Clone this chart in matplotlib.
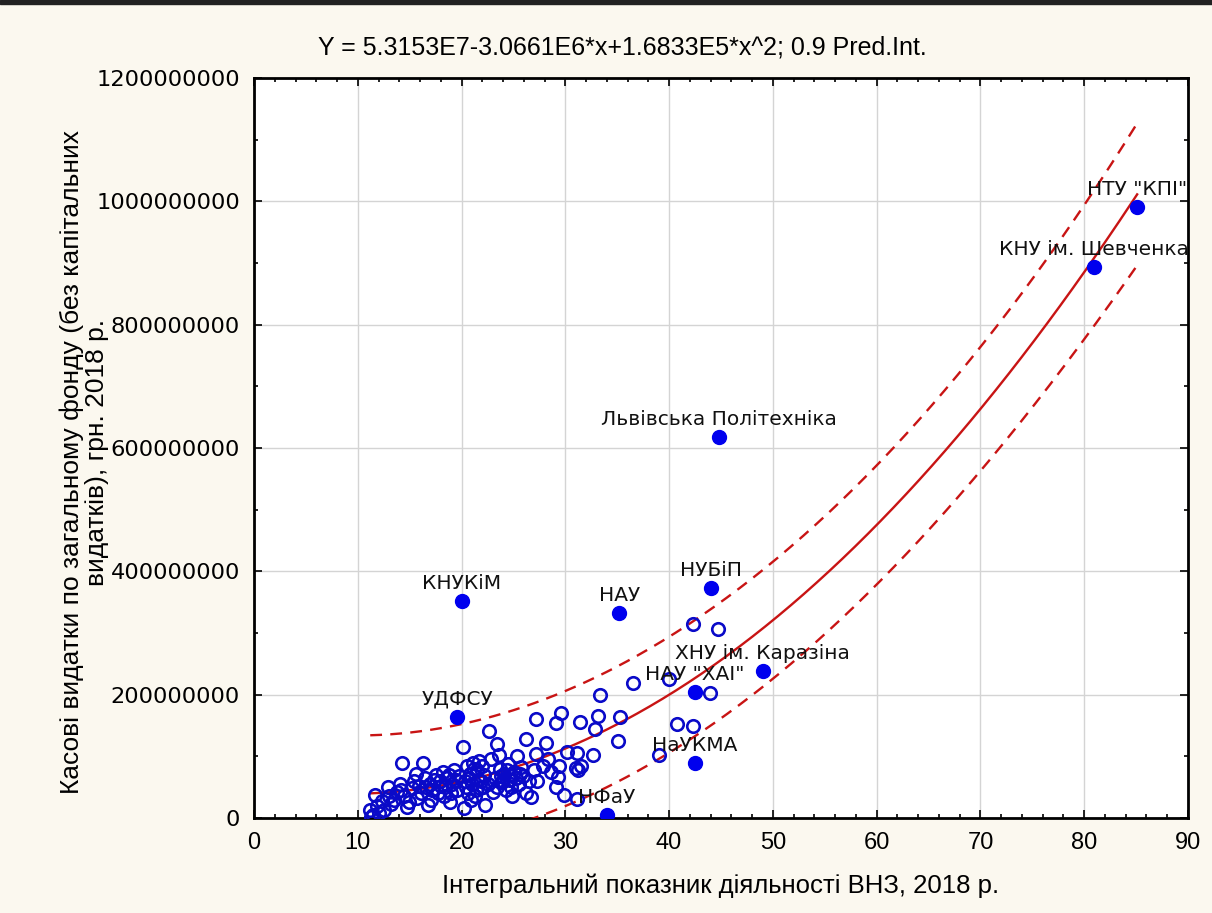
"""Scatter of university spending vs integral activity index with quadratic fit."""
import numpy as np
import matplotlib
matplotlib.use("Agg")
from matplotlib import pyplot as plt
from matplotlib.patches import Rectangle
from matplotlib.ticker import MultipleLocator

# open circles: integral index and cash expenditure (mln UAH)
x_pts = [11.2, 11.3, 11.5, 11.7, 11.9, 12.0, 12.3, 12.5, 12.9, 13.0, 13.2, 13.5,
         13.8, 14.1, 14.2, 14.3, 14.5, 14.7, 14.9, 15.2, 15.4, 15.6, 15.7, 15.9,
         16.1, 16.3, 16.5, 16.6, 16.8, 17.0, 17.1, 17.2, 17.3, 17.5, 17.7, 17.9,
         18.0, 18.2, 18.3, 18.4, 18.6, 18.8, 18.9, 19.0, 19.1, 19.3, 19.5, 19.6,
         19.8, 20.1, 20.2, 20.3, 20.4, 20.5, 20.6, 20.7, 20.8, 20.9, 21.0, 21.1,
         21.2, 21.3, 21.4, 21.5, 21.6, 21.7, 21.8, 21.9, 22.0, 22.1, 22.2, 22.3,
         22.5, 22.6, 22.8, 23.0, 23.2, 23.4, 23.4, 23.6, 23.7, 23.8, 23.9, 24.0,
         24.1, 24.3, 24.4, 24.5, 24.6, 24.7, 24.8, 24.9, 25.1, 25.2, 25.3, 25.5,
         25.6, 25.7, 25.9, 26.2, 26.2, 26.5, 26.7, 27.0, 27.2, 27.2, 27.3, 27.8,
         28.1, 28.3, 28.6, 29.1, 29.1, 29.3, 29.4, 29.6, 29.9, 30.2, 31.0, 31.1,
         31.1, 31.2, 31.4, 31.5, 32.7, 32.9, 33.1, 33.3, 35.1, 35.3, 36.5, 39.0,
         40.0, 40.8, 42.3, 42.3, 43.9, 44.7]
y_pts = [13, 2, 5, 37, 20, 8, 28, 13, 50, 35, 22, 29,
         42, 55, 45, 89, 35, 18, 26, 48, 60, 72, 32, 52,
         40, 89, 65, 50, 21, 55, 30, 45, 62, 70, 40, 60,
         52, 75, 35, 50, 65, 70, 26, 40, 55, 78, 62, 45,
         68, 115, 16, 60, 50, 85, 40, 65, 72, 30, 55, 90,
         80, 35, 45, 78, 62, 92, 48, 60, 85, 50, 70, 21,
         55, 141, 95, 42, 65, 120, 50, 102, 80, 68, 58, 60,
         72, 45, 78, 88, 70, 62, 50, 35, 75, 65, 100, 55,
         72, 82, 68, 128, 41, 60, 34, 78, 161, 104, 60, 85,
         122, 95, 75, 154, 50, 66, 84, 170, 37, 107, 81, 105,
         31, 78, 156, 84, 102, 144, 165, 199, 125, 164, 219, 102,
         225, 152, 149, 315, 203, 306]

# named universities (filled dots)
lab_names = ['НТУ "КПІ"', 'КНУ ім. Шевченка', 'Львівська Політехніка', 'НУБіП',
             'НАУ', 'КНУКіМ', 'ХНУ ім. Каразіна', 'НАУ "ХАІ"', 'УДФСУ',
             'НаУКМА', 'НФаУ']
lab_x = [85.1, 80.9, 44.8, 44.0, 35.2, 20.0, 49.0, 42.5, 19.6, 42.5, 34.0]
lab_y = [991, 893, 618, 373, 332, 352, 238, 204, 164, 89, 5]

# Y = b0 + b1*x + b2*x^2 (from the chart title)
coef = np.array([5.3153e7, -3.0661e6, 1.6833e5])
t_val = 1.656  # t(0.95, df~150) for 0.9 prediction interval

x_all = np.array(x_pts + lab_x)
y_all = np.array(y_pts + lab_y) * 1e6

A = np.vstack([np.ones_like(x_all), x_all, x_all ** 2]).T
resid = y_all - A @ coef
s2 = np.sum(resid ** 2) / (len(x_all) - 3)
cov = np.linalg.inv(A.T @ A)

xs = np.linspace(x_all.min(), x_all.max(), 300)
B = np.vstack([np.ones_like(xs), xs, xs ** 2]).T
fit = B @ coef
lev = np.einsum("ij,jk,ik->i", B, cov, B)
half = t_val * np.sqrt(s2 * (1 + lev))

bg = "#FBF8EF"
fig = plt.figure(figsize=(12.12, 9.13), dpi=100, facecolor=bg)
fig.add_artist(Rectangle((0, 1 - 4 / 913), 1, 4 / 913, transform=fig.transFigure,
                         color="#222222"))
ax = fig.add_axes([254 / 1212, 1 - 818 / 913, 934 / 1212, 740 / 913])
ax.set_facecolor("white")

ax.grid(True, color="#D4D4D4", lw=1)
ax.set_axisbelow(True)

red = "#C81414"
ax.plot(xs, fit, color=red, lw=1.7, zorder=3)
ax.plot(xs, fit + half, color=red, lw=1.7, ls=(0, (5, 3.5)), zorder=3)
ax.plot(xs, fit - half, color=red, lw=1.7, ls=(0, (5, 3.5)), zorder=3)

ax.plot(x_pts, np.array(y_pts) * 1e6, "o", ms=9, mfc="none", mec="#0A0AC8",
        mew=1.9, zorder=4)
ax.plot(lab_x, np.array(lab_y) * 1e6, "o", ms=10, color="#0000EE", zorder=5)

for name, xv, yv in zip(lab_names, lab_x, lab_y):
    ax.annotate(name, (xv, yv * 1e6), xytext=(0, 6), textcoords="offset points",
                ha="center", va="bottom", fontsize=14.5, family="DejaVu Sans",
                color="#111111", zorder=6)

ax.set_xlim(0, 90)
ax.set_ylim(0, 1.2e9)
ax.xaxis.set_major_locator(MultipleLocator(10))
ax.xaxis.set_minor_locator(MultipleLocator(2))
ax.yaxis.set_major_locator(MultipleLocator(2e8))
ax.yaxis.set_minor_locator(MultipleLocator(1e8))
ax.ticklabel_format(style="plain", axis="y", useOffset=False)
ax.tick_params(which="both", direction="in", top=True, right=True, width=1.2)
ax.tick_params(which="major", length=6, pad=10)
ax.tick_params(which="minor", length=3)
for lab in ax.get_yticklabels():
    lab.set_fontfamily("DejaVu Sans")
    lab.set_fontsize(16.2)
for lab in ax.get_xticklabels():
    lab.set_fontfamily("Liberation Sans")
    lab.set_fontsize(17)
for sp in ax.spines.values():
    sp.set_linewidth(2)

ax.set_xlabel("Інтегральний показник діяльності ВНЗ, 2018 р.",
              fontsize=18.5, family="Liberation Sans", labelpad=14)
# two-line y title, drawn as separate lines
fig.text(72 / 1212, 1 - 462 / 913,
         "Касові видатки по загальному фонду (без капітальних",
         rotation=90, ha="center", va="center", fontsize=19,
         family="Liberation Sans")
fig.text(97 / 1212, 1 - 452 / 913, "видатків), грн. 2018 р.",
         rotation=90, ha="center", va="center", fontsize=19,
         family="Liberation Sans")
fig.text(622 / 1212, 1 - 48 / 913,
         "Y = 5.3153E7-3.0661E6*x+1.6833E5*x^2; 0.9 Pred.Int.",
         ha="center", va="center", fontsize=18, family="Liberation Sans")

fig.savefig("out.png", dpi=100, facecolor=bg)
